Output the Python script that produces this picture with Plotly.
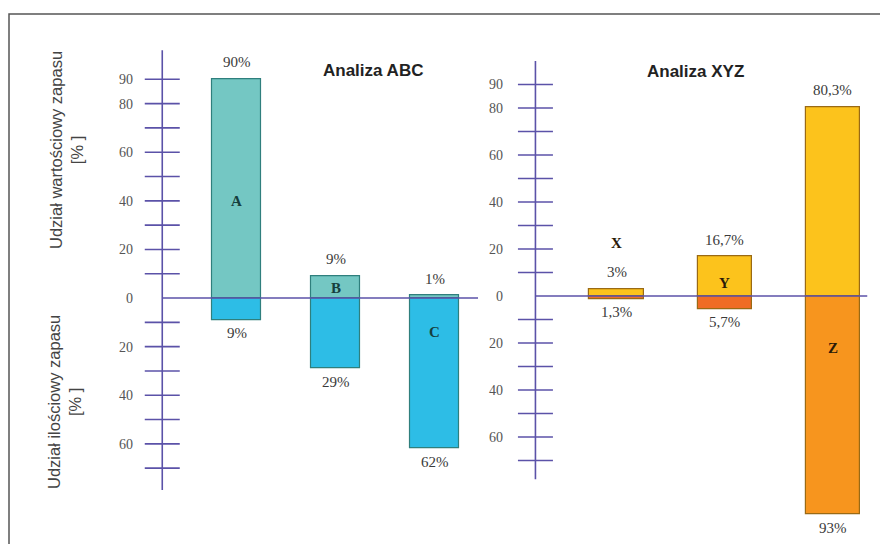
import plotly.graph_objects as go

# ---------------- data ----------------
abc_categories = ["A", "B", "C"]
abc_value_share = [90, 9, 1]          # Udział wartościowy (up)
abc_quantity_share = [9, 29, 62]      # Udział ilościowy (down)
abc_letter_y = [40, 4, -14]

xyz_categories = ["X", "Y", "Z"]
xyz_value_share = [3, 16.7, 80.3]
xyz_quantity_share = [1.3, 5.7, 93]
xyz_letter_y = [22.5, 5.5, -22]

tick_values_labeled = [90, 80, 60, 40, 20, 0, -20, -40, -60]
minor_tick_values = [90, 80, 70, 60, 50, 40, 30, 20, 10, -10, -20, -30, -40, -50, -60, -70]

# ---------------- styles ----------------
W, H = 880, 544
AXIS_COLOR = "#5b52a8"
TEAL, BLUE, ABC_LINE = "#74c7c3", "#2dbde6", "#2f7f7d"
YELLOW, RED_ORANGE, ORANGE, XYZ_LINE = "#fcc31c", "#f06c24", "#f7951e", "#9a6a14"
xyz_down_colors = [RED_ORANGE, RED_ORANGE, ORANGE]
SERIF = "Liberation Serif"
SANS = "Liberation Sans"


def fmt(v):
    return f"{v:g}".replace(".", ",") + "%"


def px_x(px):
    return px / W


def px_y(px):
    return 1 - px / H


fig = go.Figure()

panels = [
    dict(cats=abc_categories, up=abc_value_share, down=abc_quantity_share, letters_y=abc_letter_y,
         up_color=TEAL, down_color=[BLUE] * 3, line=ABC_LINE, letter_color="#163f3e",
         xa="x", ya="y", xrange=[-1.6, 2.44], xdom=[78.1, 478.1], yrange=[-82, 104], ydom=[497.3, 45.3],
         axis_top=102, axis_bot=-79, zero_end=2.44, label_pos=133, title="Analiza ABC", title_x=373, title_y=70),
    dict(cats=xyz_categories, up=xyz_value_share, down=xyz_quantity_share, letters_y=xyz_letter_y,
         up_color=YELLOW, down_color=xyz_down_colors, line=XYZ_LINE, letter_color="#2a1a08",
         xa="x2", ya="y2", xrange=[-1.3, 2.4], xdom=[476.0, 875.9], yrange=[-98, 102], ydom=[526.3, 56.3],
         axis_top=100, axis_bot=-78, zero_end=2.32, label_pos=503, title="Analiza XYZ", title_x=695, title_y=72),
]

annotations = []
shapes = []

for i, p in enumerate(panels):
    xs = list(range(len(p["cats"])))
    fig.add_trace(go.Bar(x=xs, y=p["up"], width=0.5, marker=dict(color=p["up_color"], line=dict(color=p["line"], width=1.2)),
                         xaxis=p["xa"], yaxis=p["ya"], showlegend=False, hoverinfo="skip"))
    fig.add_trace(go.Bar(x=xs, y=[-v for v in p["down"]], width=0.5,
                         marker=dict(color=p["down_color"], line=dict(color=p["line"], width=1.2)),
                         xaxis=p["xa"], yaxis=p["ya"], showlegend=False, hoverinfo="skip"))
    # crossing tick marks along the axis
    fig.add_trace(go.Scatter(x=[-0.75] * len(minor_tick_values), y=minor_tick_values, mode="markers",
                             marker=dict(symbol="line-ew", size=25, line=dict(color=AXIS_COLOR, width=1.6)),
                             xaxis=p["xa"], yaxis=p["ya"], showlegend=False, hoverinfo="skip"))
    xref, yref = p["xa"], p["ya"]
    # vertical axis line
    shapes.append(dict(type="line", xref=xref, yref=yref, x0=-0.75, x1=-0.75, y0=p["axis_bot"], y1=p["axis_top"],
                       line=dict(color=AXIS_COLOR, width=1.6), layer="above"))
    # zero line
    shapes.append(dict(type="line", xref=xref, yref=yref, x0=-0.75, x1=p["zero_end"], y0=0, y1=0,
                       line=dict(color=AXIS_COLOR, width=1.6), layer="above"))
    for j, c in enumerate(p["cats"]):
        annotations.append(dict(x=j, y=p["up"][j], xref=xref, yref=yref, text=fmt(p["up"][j]), showarrow=False,
                                yshift=17, font=dict(family=SERIF, size=15, color="#3a3a3a")))
        annotations.append(dict(x=j, y=-p["down"][j], xref=xref, yref=yref, text=fmt(p["down"][j]), showarrow=False,
                                yshift=-13, font=dict(family=SERIF, size=15, color="#3a3a3a")))
        annotations.append(dict(x=j, y=p["letters_y"][j], xref=xref, yref=yref, text=f"<b>{c}</b>", showarrow=False,
                                font=dict(family=SERIF, size=15, color=p["letter_color"])))
    annotations.append(dict(x=px_x(p["title_x"]), y=px_y(p["title_y"]), xref="paper", yref="paper",
                            xanchor="center", yanchor="middle",
                            text=f"<b>{p['title']}</b>", showarrow=False,
                            font=dict(family=SANS, size=17, color="#222222")))

# y-axis titles
annotations.append(dict(x=px_x(66), y=px_y(150), xref="paper", yref="paper", textangle=-90, showarrow=False,
                        xanchor="center", yanchor="middle",
                        text="Udział wartościowy zapasu<br>[% ]", font=dict(family=SANS, size=16.5, color="#444444")))
annotations.append(dict(x=px_x(64), y=px_y(402), xref="paper", yref="paper", textangle=-90, showarrow=False,
                        xanchor="center", yanchor="middle",
                        text="Udział ilościowy zapasu<br>[% ]", font=dict(family=SANS, size=16.5, color="#444444")))

# outer frame
shapes.append(dict(type="rect", xref="paper", yref="paper", x0=px_x(9), x1=1.02, y0=-0.02, y1=px_y(14),
                   line=dict(color="#555555", width=1.5)))

tick_text = [str(abs(v)) for v in tick_values_labeled]

fig.update_layout(
    width=W, height=H, margin=dict(l=0, r=0, t=0, b=0),
    paper_bgcolor="white", plot_bgcolor="rgba(0,0,0,0)",
    barmode="overlay", bargap=0,
    annotations=annotations, shapes=shapes,
    xaxis=dict(domain=[px_x(panels[0]["xdom"][0]), px_x(panels[0]["xdom"][1])], range=panels[0]["xrange"],
               visible=False, anchor="y"),
    xaxis2=dict(domain=[px_x(panels[1]["xdom"][0]), px_x(panels[1]["xdom"][1])], range=panels[1]["xrange"],
                visible=False, anchor="y2"),
    yaxis=dict(domain=[px_y(panels[0]["ydom"][0]), px_y(panels[0]["ydom"][1])], range=panels[0]["yrange"],
               anchor="free", position=px_x(panels[0]["label_pos"]), tickvals=tick_values_labeled, ticktext=tick_text,
               showgrid=False, zeroline=False, showline=False, ticks="",
               tickfont=dict(family=SERIF, size=14, color="#555555")),
    yaxis2=dict(domain=[px_y(panels[1]["ydom"][0]), px_y(panels[1]["ydom"][1])], range=panels[1]["yrange"],
                anchor="free", position=px_x(panels[1]["label_pos"]), tickvals=tick_values_labeled, ticktext=tick_text,
                showgrid=False, zeroline=False, showline=False, ticks="",
                tickfont=dict(family=SERIF, size=14, color="#555555")),
)

fig.write_html("out.html")
